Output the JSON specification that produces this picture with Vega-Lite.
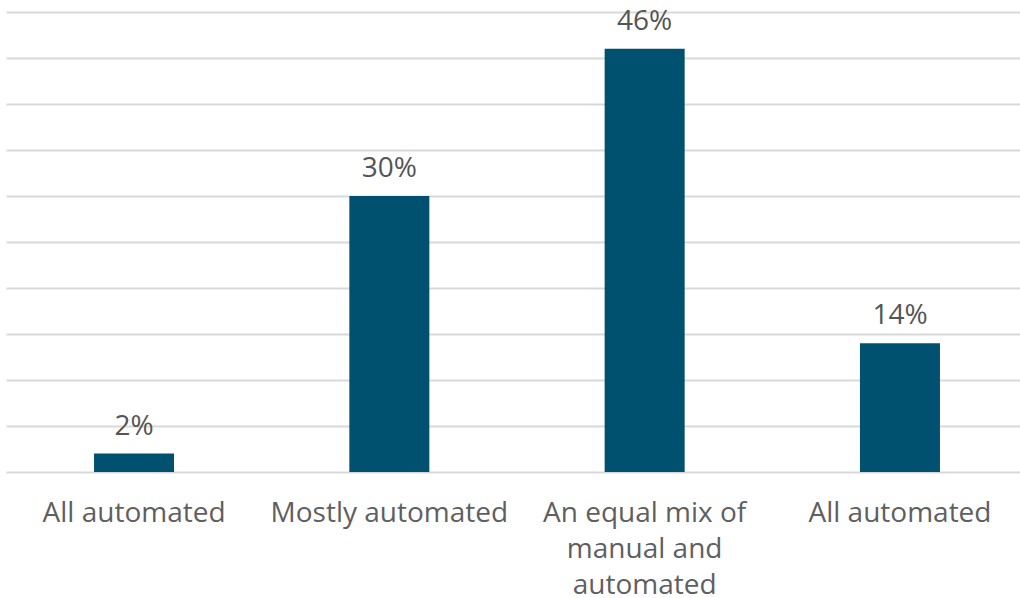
{
  "$schema": "https://vega.github.io/schema/vega-lite/v6.json",
  "width": 1014,
  "height": 460,
  "autosize": {"type": "none"},
  "padding": {"left": 6, "top": 12, "right": 0, "bottom": 126},
  "background": "#ffffff",
  "config": {"view": {"stroke": null}},
  "data": {
    "values": [
      {"slot": 1, "label": "All automated", "share": 0.02},
      {"slot": 2, "label": "Mostly automated", "share": 0.30},
      {"slot": 3, "label": "An equal mix of\nmanual and\nautomated", "share": 0.46},
      {"slot": 4, "label": "All automated", "share": 0.14}
    ]
  },
  "encoding": {
    "x": {
      "field": "slot",
      "type": "ordinal",
      "scale": {"range": [0, 1022], "paddingInner": 0.6866, "paddingOuter": 0.3448},
      "axis": null
    }
  },
  "layer": [
    {
      "mark": {"type": "bar", "color": "#00516f"},
      "encoding": {
        "y": {
          "field": "share",
          "type": "quantitative",
          "scale": {"domain": [0, 0.5], "nice": false},
          "axis": {
            "title": null,
            "labels": false,
            "ticks": false,
            "domain": false,
            "values": [0, 0.05, 0.1, 0.15, 0.2, 0.25, 0.3, 0.35, 0.4, 0.45, 0.5],
            "grid": true,
            "gridColor": "#d9d9d9",
            "gridWidth": 2
          }
        }
      }
    },
    {
      "mark": {
        "type": "text",
        "font": "Open Sans",
        "fontSize": 28,
        "color": "#555555",
        "baseline": "alphabetic",
        "align": "center",
        "dy": -19
      },
      "encoding": {
        "y": {"field": "share", "type": "quantitative"},
        "text": {"field": "share", "type": "quantitative", "format": ".0%"}
      }
    },
    {
      "mark": {
        "type": "text",
        "font": "Open Sans",
        "fontSize": 28,
        "color": "#5f5f5f",
        "baseline": "alphabetic",
        "align": "center",
        "lineBreak": "\n",
        "lineHeight": 36,
        "dy": 50
      },
      "encoding": {
        "y": {"datum": 0, "type": "quantitative"},
        "text": {"field": "label", "type": "nominal"}
      }
    }
  ]
}
